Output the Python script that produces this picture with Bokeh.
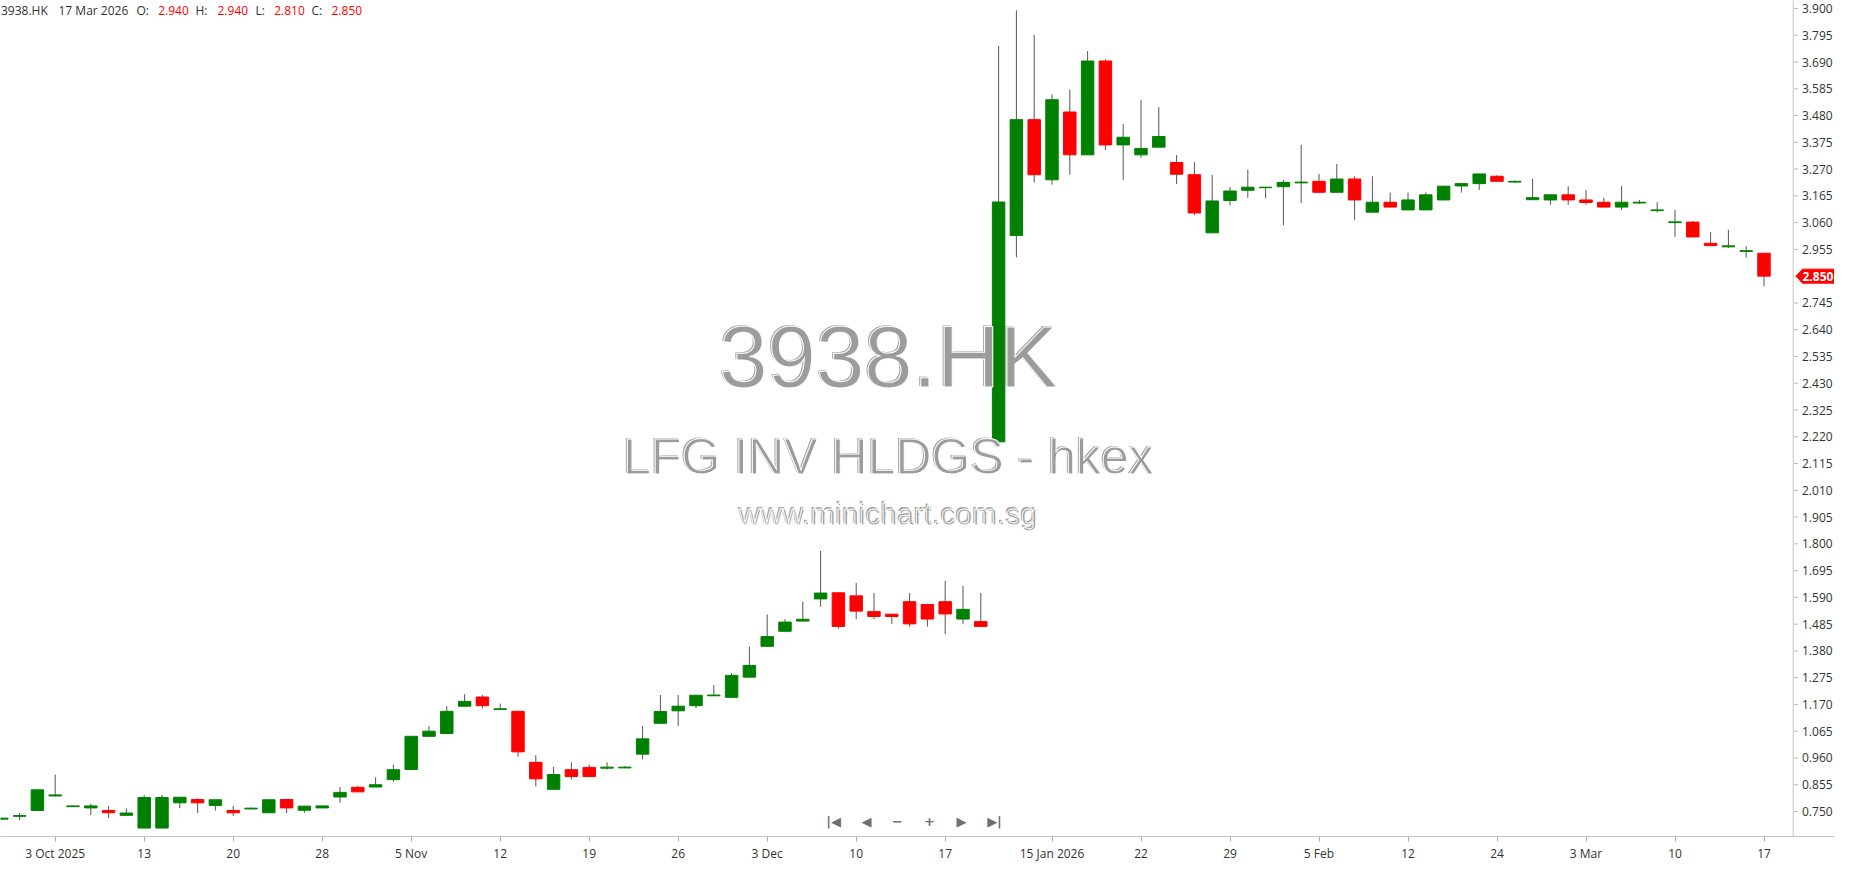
from bokeh.plotting import figure
from bokeh.models import Range1d, FixedTicker, Label, ColumnDataSource, Span
from bokeh.core.properties import value
from bokeh.embed import file_html
from bokeh.resources import INLINE

# ---------------- data ----------------
symbol = "3938.HK"
last_date = "17 Mar 2026"
title_main = "3938.HK"
title_name = "LFG INV HLDGS - hkex"
title_site = "www.minichart.com.sg"

opens = [0.720, 0.731, 0.754, 0.811, 0.769, 0.764, 0.754, 0.735, 0.685, 0.685,
         0.784, 0.797, 0.774, 0.754, 0.760, 0.745, 0.797, 0.755, 0.764, 0.807,
         0.845, 0.846, 0.875, 0.915, 1.045, 1.056, 1.163, 1.199, 1.150, 1.143,
         0.943, 0.837, 0.914, 0.923, 0.920, 0.921, 0.975, 1.096, 1.145, 1.165,
         1.204, 1.198, 1.277, 1.398, 1.457, 1.497, 1.584, 1.608, 1.596, 1.534,
         1.524, 1.573, 1.562, 1.573, 1.505, 1.495, 2.200, 3.010, 3.464, 3.228,
         3.494, 3.326, 3.694, 3.365, 3.326, 3.356, 3.296, 3.248, 3.020, 3.147,
         3.187, 3.197, 3.201, 3.216, 3.222, 3.179, 3.231, 3.101, 3.140, 3.110,
         3.110, 3.149, 3.204, 3.213, 3.242, 3.219, 3.150, 3.149, 3.169, 3.149,
         3.140, 3.121, 3.137, 3.107, 3.060, 3.062, 2.979, 2.965, 2.947, 2.940]
highs = [0.725, 0.744, 0.835, 0.895, 0.773, 0.781, 0.772, 0.762, 0.815, 0.815,
         0.806, 0.801, 0.796, 0.772, 0.766, 0.796, 0.797, 0.771, 0.772, 0.846,
         0.850, 0.884, 0.934, 1.045, 1.085, 1.163, 1.210, 1.207, 1.173, 1.145,
         0.971, 0.925, 0.943, 0.934, 0.943, 0.928, 1.085, 1.207, 1.207, 1.206,
         1.246, 1.293, 1.397, 1.523, 1.504, 1.573, 1.772, 1.610, 1.646, 1.607,
         1.526, 1.607, 1.565, 1.655, 1.635, 1.607, 3.753, 3.893, 3.796, 3.563,
         3.582, 3.733, 3.701, 3.446, 3.542, 3.513, 3.325, 3.297, 3.248, 3.200,
         3.268, 3.200, 3.228, 3.365, 3.251, 3.290, 3.242, 3.242, 3.178, 3.178,
         3.178, 3.203, 3.215, 3.251, 3.246, 3.226, 3.232, 3.169, 3.203, 3.188,
         3.158, 3.203, 3.149, 3.140, 3.110, 3.067, 3.023, 3.032, 2.968, 2.940]
lows = [0.718, 0.716, 0.754, 0.809, 0.769, 0.736, 0.724, 0.735, 0.685, 0.685,
        0.763, 0.744, 0.754, 0.733, 0.758, 0.745, 0.744, 0.745, 0.764, 0.784,
        0.827, 0.846, 0.866, 0.915, 1.045, 1.056, 1.163, 1.155, 1.150, 0.965,
        0.848, 0.837, 0.876, 0.887, 0.915, 0.920, 0.954, 1.096, 1.085, 1.155,
        1.204, 1.198, 1.277, 1.398, 1.457, 1.497, 1.553, 1.467, 1.505, 1.505,
        1.486, 1.475, 1.475, 1.446, 1.486, 1.476, 2.190, 2.924, 3.218, 3.209,
        3.248, 3.326, 3.345, 3.228, 3.315, 3.356, 3.211, 3.090, 3.020, 3.128,
        3.157, 3.156, 3.050, 3.137, 3.179, 3.179, 3.071, 3.101, 3.121, 3.110,
        3.110, 3.149, 3.178, 3.188, 3.222, 3.217, 3.150, 3.130, 3.130, 3.130,
        3.121, 3.110, 3.134, 3.100, 3.004, 3.004, 2.968, 2.961, 2.922, 2.810]
closes = [0.724, 0.734, 0.835, 0.815, 0.772, 0.772, 0.745, 0.744, 0.805, 0.805,
          0.806, 0.784, 0.796, 0.745, 0.763, 0.796, 0.764, 0.771, 0.772, 0.825,
          0.827, 0.855, 0.914, 1.045, 1.065, 1.143, 1.182, 1.165, 1.153, 0.984,
          0.878, 0.895, 0.887, 0.887, 0.924, 0.924, 1.035, 1.142, 1.163, 1.206,
          1.207, 1.284, 1.323, 1.436, 1.493, 1.504, 1.607, 1.476, 1.536, 1.515,
          1.515, 1.486, 1.505, 1.525, 1.543, 1.476, 3.141, 3.464, 3.248, 3.542,
          3.326, 3.694, 3.365, 3.395, 3.351, 3.398, 3.250, 3.098, 3.145, 3.184,
          3.199, 3.199, 3.218, 3.219, 3.179, 3.231, 3.149, 3.140, 3.121, 3.149,
          3.169, 3.203, 3.213, 3.251, 3.222, 3.222, 3.158, 3.169, 3.149, 3.139,
          3.121, 3.140, 3.140, 3.110, 3.063, 3.004, 2.970, 2.969, 2.950, 2.850]

x_tick_index = [3, 8, 13, 18, 23, 28, 33, 38, 43, 48, 53, 59, 64, 69, 74, 79, 84, 89, 94, 99]
x_tick_labels = ["3 Oct 2025", "13", "20", "28", "5 Nov", "12", "19", "26", "3 Dec", "10",
                 "17", "15 Jan 2026", "22", "29", "5 Feb", "12", "24", "3 Mar", "10", "17"]
y_ticks = [0.750, 0.855, 0.960, 1.065, 1.170, 1.275, 1.380, 1.485, 1.590, 1.695, 1.800,
           1.905, 2.010, 2.115, 2.220, 2.325, 2.430, 2.535, 2.640, 2.745, 2.850, 2.955,
           3.060, 3.165, 3.270, 3.375, 3.480, 3.585, 3.690, 3.795, 3.900]

# ---------------- layout ----------------
GREEN = "#008000"
RED = "#ff0000"
FONT = "Open Sans"
PAGE = 8                      # body margin of the page
FRAME_W, FRAME_H = 1834, 836  # plot frame covers the price-scale strip too

# pixel geometry (absolute page px)
BAR0_X, BAR_STEP = 9.3, 17.8          # centre of first bar, bar spacing
TOP_P, TOP_Y = 3.900, 16.0            # top tick and its page y
BOT_P, BOT_Y = 0.750, 819.0           # bottom tick and its page y
PX_PER_UNIT = (BOT_Y - TOP_Y) / (TOP_P - BOT_P)
AXIS_X = 1800.7                       # page x of the price-scale line


def dx(ax):
    """page x (px) -> bar index units"""
    return (ax - BAR0_X) / BAR_STEP


def dy(ay):
    """page y (px) -> price units"""
    return TOP_P - (ay - TOP_Y) / PX_PER_UNIT


p = figure(frame_width=FRAME_W, frame_height=FRAME_H,
           x_range=Range1d(dx(PAGE), dx(PAGE + FRAME_W)),
           y_range=Range1d(dy(PAGE + FRAME_H), dy(PAGE)),
           y_axis_location=None, output_backend="svg", toolbar_location=None,
           min_border=0, min_border_bottom=22,
           background_fill_color="white", border_fill_color="white")
p.outline_line_color = None
p.xgrid.visible = False
p.ygrid.visible = False

# time axis
xa = p.xaxis[0]
xa.ticker = FixedTicker(ticks=x_tick_index)
xa.major_label_overrides = {i: l for i, l in zip(x_tick_index, x_tick_labels)}
xa.axis_line_color = "#c4c4c4"
xa.major_tick_line_color = "#b0b0b0"
xa.major_tick_in = 0
xa.major_tick_out = 5
xa.minor_tick_line_color = None
xa.major_label_standoff = 3
xa.major_label_text_font = FONT
xa.major_label_text_font_size = "12px"
xa.major_label_text_color = "#333333"

# watermark (grey text with a faint embossed double edge)
WM_X = 896
for txt, ay, size in [(title_main, 364, "87px"), (title_name, 464.5, "50px"), (title_site, 521.5, "30px")]:
    p.add_layout(Label(x=dx(WM_X - 1.5), y=dy(ay - 1.5), text=txt, text_align="center",
                       text_baseline="middle", text_font="Liberation Sans", text_font_size=size,
                       text_color="#a4a4a4"))
    p.add_layout(Label(x=dx(WM_X), y=dy(ay), text=txt, text_align="center", text_baseline="middle",
                       text_font="Liberation Sans", text_font_size=size, text_color="#9c9c9c",
                       text_outline_color="white"))

# candles
idx = list(range(len(opens)))
src = ColumnDataSource(dict(
    x=idx,
    high=highs, low=lows,
    top=[max(o, c) for o, c in zip(opens, closes)],
    bottom=[min(o, c) for o, c in zip(opens, closes)],
    color=[GREEN if c >= o else RED for o, c in zip(opens, closes)],
))
p.segment(x0="x", y0="low", x1="x", y1="high", source=src, line_color="#555555", line_width=1)
p.vbar(x="x", width=0.7, top="top", bottom="bottom", source=src,
       fill_color="color", line_color="color", line_width=1)

# price scale (drawn inside the frame so the last-price tag can sit on it)
p.add_layout(Span(location=dx(AXIS_X), dimension="height", line_color="#c4c4c4", line_width=1))
ysrc = ColumnDataSource(dict(
    y=y_ticks, lbl=[f"{v:.3f}" for v in y_ticks],
    x0=[dx(AXIS_X + 1)] * len(y_ticks), x1=[dx(AXIS_X + 4.5)] * len(y_ticks),
    xt=[dx(1809.5)] * len(y_ticks)))
p.segment(x0="x0", y0="y", x1="x1", y1="y", source=ysrc, line_color="#b0b0b0", line_width=1)
p.text(x="xt", y="y", text="lbl", source=ysrc, text_align="left", text_baseline="middle",
       text_font=value(FONT), text_font_size="12px", text_color="#333333")

# last price tag
last = closes[-1]
half = 7.0 / PX_PER_UNIT
p.patch(x=[dx(1803.5), dx(1810), dx(1842), dx(1842), dx(1810)],
        y=[last, last + half, last + half, last - half, last - half],
        fill_color=RED, line_color=RED, line_width=1)
p.text(x=[dx(1810)], y=[last], text=[f"{last:.3f}"], text_align="left", text_baseline="middle",
       text_font=value(FONT), text_font_size="12px", text_font_style="bold", text_color="white")

# header line
hdr = [(symbol, 8.5, "#333333"), (last_date, 66, "#333333"),
       ("O:", 144, "#333333"), (f"{opens[-1]:.3f}", 165.7, RED),
       ("H:", 203, "#333333"), (f"{highs[-1]:.3f}", 225, RED),
       ("L:", 263, "#333333"), (f"{lows[-1]:.3f}", 281.7, RED),
       ("C:", 319, "#333333"), (f"{closes[-1]:.3f}", 339, RED)]
for txt, ax, col in hdr:
    p.add_layout(Label(x=dx(ax), y=dy(18), text=txt, text_align="left", text_baseline="middle",
                       text_font=FONT, text_font_size="12px", text_color=col))

# navigation icons
nav = [("|◀", 841), ("◀", 874), ("−", 905), ("+", 937), ("▶", 969), ("▶|", 1002)]
for txt, ax in nav:
    p.add_layout(Label(x=dx(ax), y=dy(829), text=txt, text_align="center", text_baseline="middle",
                       text_font="DejaVu Sans", text_font_size="13px", text_font_style="bold",
                       text_color="#707070"))

open("out.html", "w").write(file_html(p, INLINE))
